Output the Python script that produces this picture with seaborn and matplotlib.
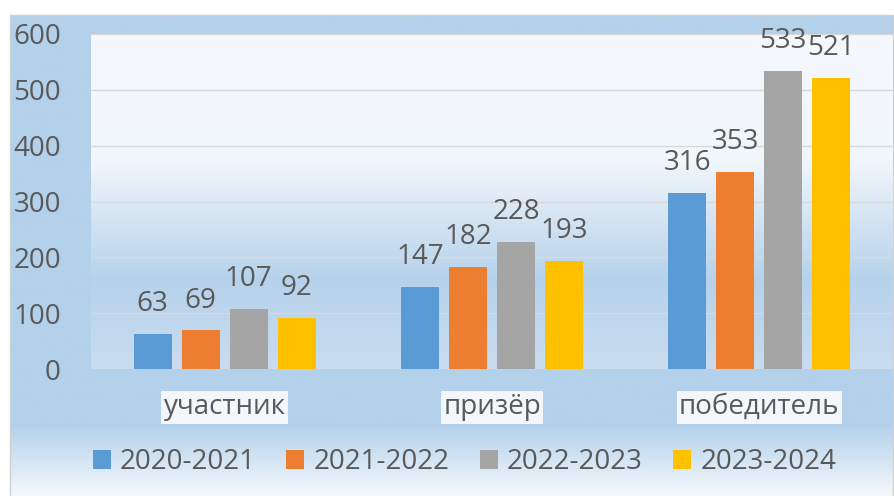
import numpy as np
import pandas as pd
import matplotlib
matplotlib.use("Agg")
import matplotlib.pyplot as plt
from matplotlib.colors import to_rgb
from matplotlib.patches import Rectangle
import seaborn as sns

# ---- data ----
categories = ["участник", "призёр", "победитель"]
years = ["2020-2021", "2021-2022", "2022-2023", "2023-2024"]
v_2020_2021 = [63, 147, 316]
v_2021_2022 = [69, 182, 353]
v_2022_2023 = [107, 228, 533]
v_2023_2024 = [92, 193, 521]
series = [v_2020_2021, v_2021_2022, v_2022_2023, v_2023_2024]
colors = ["#5b9bd5", "#ed7d31", "#a5a5a5", "#ffc000"]
y_ticks = [0, 100, 200, 300, 400, 500, 600]

rows = []
for yr, vals in zip(years, series):
    for c, v in zip(categories, vals):
        rows.append({"cat": c, "year": yr, "val": v})
df = pd.DataFrame(rows)

sns.set_style("white")
plt.rcParams["font.family"] = ["Open Sans", "DejaVu Sans"]
TXT = "#595959"
FS = 20

W, H = 894, 496
fig = plt.figure(figsize=(W / 100, H / 100), dpi=100)
fig.patch.set_facecolor("white")


def vgrad(stops, n=500):
    ys = np.array([s[0] for s in stops], dtype=float)
    cols = np.array([to_rgb(s[1]) for s in stops])
    t = np.linspace(ys[0], ys[-1], n)
    img = np.stack([np.interp(t, ys, cols[:, k]) for k in range(3)], axis=-1)
    return img[:, None, :]


# outer chart-area background
bg = fig.add_axes([0, 0, 1, 1], zorder=-10)
bg.axis("off")
outer = vgrad([(15, "#b4d1eb"), (425, "#b4d1eb"), (496, "#f4f8fc")])
bg.imshow(outer, extent=[10, 893, 496, 15], aspect="auto", interpolation="bilinear")
bg.add_patch(Rectangle((10, 15), 883, 490, fill=False, ec="#d0d0d0", lw=1))
bg.set_xlim(0, W)
bg.set_ylim(H, 0)

# plot area
ax = fig.add_axes([91 / W, 1 - 369 / H, (893 - 91) / W, (369 - 34) / H])
ax.patch.set_alpha(0)
inner = vgrad([(34, "#f5f8fc"), (160, "#f1f6fb"), (280, "#b6d2eb"), (369, "#cadcef")])
ax.imshow(inner, extent=[-0.5, 2.5, 0, 600], aspect="auto", zorder=0,
          interpolation="bilinear")

sns.barplot(data=df, x="cat", y="val", hue="year", palette=colors,
            saturation=1, width=0.718, gap=0.21, ax=ax, zorder=2,
            edgecolor="none", linewidth=0)

for cont, vals in zip(ax.containers, series):
    ax.bar_label(cont, labels=[str(v) for v in vals], padding=11.5,
                 fontsize=FS, color=TXT)

ax.set_xlim(-0.5, 2.5)
ax.set_ylim(0, 600)
ax.set_yticks(y_ticks)
ax.set_yticklabels([str(t) for t in y_ticks])
ax.yaxis.grid(True, color="#d9d9d9", lw=1, zorder=1)
ax.set_axisbelow(True)
for s in ax.spines.values():
    s.set_visible(False)
ax.tick_params(axis="y", length=0, pad=21.6, labelsize=FS, labelcolor=TXT)
ax.tick_params(axis="x", length=0, pad=17.5, labelsize=FS, labelcolor=TXT)
ax.set_xlabel("")
ax.set_ylabel("")
for lab in ax.get_xticklabels():
    lab.set_bbox(dict(boxstyle="square,pad=0.08", fc="#f3f7fc", ec="none"))

leg = ax.get_legend()
handles = leg.legend_handles
labels = [t.get_text() for t in leg.get_texts()]
leg.remove()
fig.legend(handles, labels, loc="center", bbox_to_anchor=(464.5 / W, 1 - 462 / H),
           ncol=4, frameon=False, fontsize=FS, labelcolor=TXT,
           handlelength=0.65, handleheight=0.65, handletextpad=0.32,
           columnspacing=1.1, borderpad=0)

fig.savefig("out.png", dpi=100)
